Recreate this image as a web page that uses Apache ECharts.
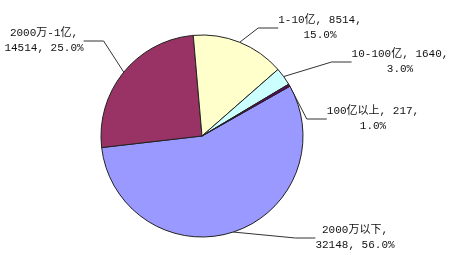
<!DOCTYPE html>
<html><head><meta charset="utf-8">
<script src="https://cdn.jsdelivr.net/npm/echarts@6/dist/echarts.min.js"></script>
<style>html,body{margin:0;padding:0;background:#fff}#c{width:455px;height:255px}</style>
</head><body><div id="c"></div>
<script>
const categories = ['2000万以下', '2000万-1亿', '1-10亿', '10-100亿', '100亿以上'];
const values = [32148, 14514, 8514, 1640, 217];
const pctLabels = ['56.0%', '25.0%', '15.0%', '3.0%', '1.0%'];
const colors = ['#9999FF', '#993366', '#FFFFCC', '#CCFFFF', '#660066'];

// label layout (positions only, not data)
const breakAfterName = [true, true, false, false, false];
const labelPos = [[355, 238], [44, 41], [320, 28], [400, 62], [373, 119]];

const chart = echarts.init(document.getElementById('c'), null, {renderer: 'canvas'});
chart.setOption({
  backgroundColor: '#fff',
  animation: false,
  series: [{
    type: 'pie',
    center: [202, 136],
    radius: 101,
    startAngle: 29.5,
    clockwise: true,
    avoidLabelOverlap: false,
    data: categories.map((n, i) => ({name: n, value: values[i], itemStyle: {color: colors[i]}})),
    itemStyle: {borderColor: '#222', borderWidth: 1},
    emphasis: {disabled: true},
    label: {
      show: true,
      position: 'outside',
      color: '#111',
      fontSize: 11,
      lineHeight: 15,
      fontFamily: '"Liberation Mono", "Noto Sans CJK SC", monospace',
      align: 'center',
      formatter: p => {
        const i = p.dataIndex;
        return breakAfterName[i]
          ? categories[i] + ',\n' + values[i] + ', ' + pctLabels[i]
          : categories[i] + ', ' + values[i] + ',\n' + pctLabels[i];
      }
    },
    labelLine: {show: true, length: 10, length2: 20, lineStyle: {color: '#333', width: 1}},
    labelLayout: p => ({
      x: labelPos[p.dataIndex][0],
      y: labelPos[p.dataIndex][1],
      align: 'center',
      verticalAlign: 'middle',
      hideOverlap: false,
      moveOverlap: null
    })
  }]
});
</script></body></html>
